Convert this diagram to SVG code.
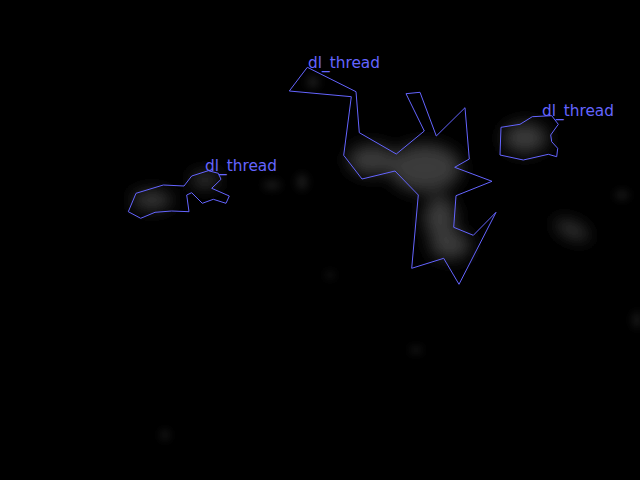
<svg xmlns="http://www.w3.org/2000/svg" width="640" height="480" viewBox="0 0 640 480">
<defs>
<filter id="b8" x="-100%" y="-100%" width="300%" height="300%"><feGaussianBlur stdDeviation="8"/></filter>
<filter id="b4" x="-100%" y="-100%" width="300%" height="300%"><feGaussianBlur stdDeviation="4"/></filter>
<style>
.poly{fill:none;stroke:#6464ff;stroke-width:1}
.lbl{font-family:"DejaVu Sans",sans-serif;font-size:15px;fill:#6464ff}
.blob{fill:#3a3a3a}
</style>
</defs>
<rect width="640" height="480" fill="#000"/>
<g id="blobs">
<g filter="url(#b8)">
<ellipse class="blob" cx="372" cy="160" rx="24" ry="15"/>
<ellipse class="blob" cx="425" cy="168" rx="36" ry="24"/>
<ellipse class="blob" cx="440" cy="218" rx="16" ry="22"/>
<ellipse class="blob" cx="450" cy="245" rx="20" ry="14"/>
<ellipse class="blob" cx="525" cy="138" rx="22" ry="15"/>
<ellipse class="blob" cx="152" cy="200" rx="20" ry="9"/>
<ellipse class="blob" cx="205" cy="180" rx="14" ry="7"/>
<ellipse class="blob" cx="572" cy="230" rx="18" ry="7" transform="rotate(25 572 230)"/>
</g>
<g filter="url(#b4)" opacity="0.5">
<ellipse class="blob" cx="302" cy="182" rx="5" ry="8"/>
<ellipse class="blob" cx="272" cy="185" rx="9" ry="4"/>
<ellipse class="blob" cx="313" cy="82" rx="6" ry="6"/>
<ellipse class="blob" cx="622" cy="195" rx="7" ry="4"/>
<ellipse class="blob" cx="637" cy="320" rx="4" ry="8"/>
<ellipse class="blob" cx="416" cy="350" rx="6" ry="3"/>
<ellipse class="blob" cx="165" cy="435" rx="4" ry="5"/>
<ellipse class="blob" cx="330" cy="275" rx="4" ry="3"/>
</g>
</g>
<g id="node-big">
<polygon class="poly" points="307.3,67.3 356,91.7 359.3,132.7 396.3,154 424.3,131 406,93.7 420,92.3 436.3,136 465,107.7 469.3,159 454.7,167.3 492,181.3 456,195.7 453.7,227.3 473.3,235.3 496,212.3 459,284.3 443.7,258.3 411.7,268.3 418.3,195 395,171 362,179 343.7,155.3 351.3,96.7 289.3,91"/>
<text class="lbl" x="308" y="68" textLength="72" lengthAdjust="spacingAndGlyphs">dl_thread</text>
</g>
<g id="node-left">
<polygon class="poly" points="128.3,211.7 136,193.3 163.3,185 184,186 191.7,176 208.3,170.7 218.3,173.3 221,179.3 211.7,188.3 229.3,196 226,203.3 213.3,199.3 202.3,203.3 191.7,192.7 186.7,195 189,211.7 171.7,211 155,212.3 140.7,218.3"/>
<text class="lbl" x="205" y="171" textLength="72" lengthAdjust="spacingAndGlyphs">dl_thread</text>
</g>
<g id="node-right">
<polygon class="poly" points="501,127.3 520,124.3 532.3,116.7 551.7,115.7 558.3,124.3 550.7,135 551.7,141.7 557.7,148.3 556.7,156.7 548.3,154.3 523.3,160 500,155"/>
<text class="lbl" x="542" y="116" textLength="72" lengthAdjust="spacingAndGlyphs">dl_thread</text>
</g>
<g id="connectors"/>
</svg>
